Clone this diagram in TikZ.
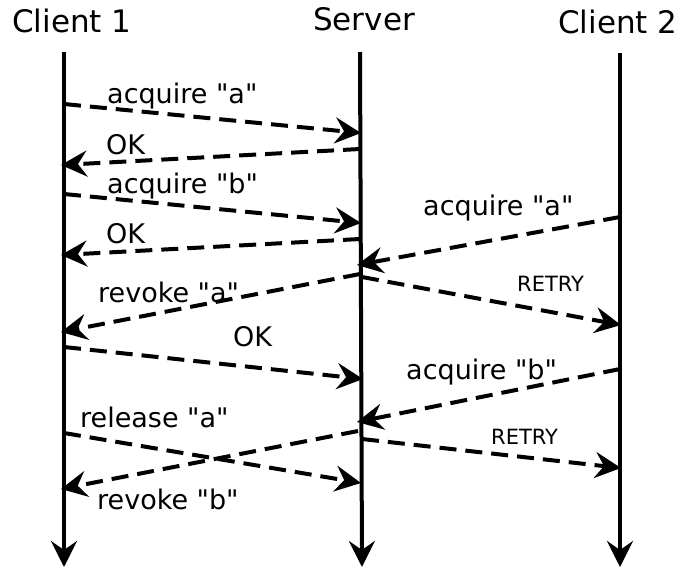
\documentclass[tikz,border=0pt]{standalone}
\usepackage{fontspec}
\setmainfont{DejaVu Sans}[Ligatures=TeXOff]
\usetikzlibrary{arrows.meta}
\begin{document}
\begin{tikzpicture}[x=1pt,y=-1pt,
  tip/.tip={Stealth[length=26pt,width=26pt,inset=9pt]},
  lifeline/.style={line width=4pt,-tip},
  msg/.style={line width=4pt,dash pattern=on 17pt off 9pt,-tip},
  title/.style={font=\fontsize{31}{36}\selectfont,anchor=base,inner sep=0pt},
  lbl/.style={font=\fontsize{27}{32}\selectfont,anchor=base west,inner sep=0pt},
  small/.style={font=\fontsize{21}{25}\selectfont,anchor=base west,inner sep=0pt}]
\useasboundingbox (0,0) rectangle (684,568);
% lifelines
\coordinate (c1top) at (64,52);  \coordinate (c1bot) at (64,567);
\coordinate (stop)  at (360,52); \coordinate (sbot)  at (362,567);
\coordinate (c2top) at (620,53); \coordinate (c2bot) at (620,567);
\draw[lifeline] (c1top) -- (c1bot);
\draw[lifeline] (stop) -- (sbot);
\draw[lifeline] (c2top) -- (c2bot);
\node[title] (t1) at (72,32) {Client 1};
\node[title] (ts) at (364,30) {Server};
\node[title] (t2) at (618,33) {Client 2};
% message endpoints
\coordinate (m1a) at (64,104);  \coordinate (m1b) at (361,133);
\coordinate (m2a) at (360,149); \coordinate (m2b) at (61,165);
\coordinate (m3a) at (64,194);  \coordinate (m3b) at (361,223);
\coordinate (m4a) at (360,239); \coordinate (m4b) at (61,255);
\coordinate (m5a) at (620,217); \coordinate (m5b) at (357,265);
\coordinate (m6a) at (362,277); \coordinate (m6b) at (621,325);
\coordinate (m7a) at (360,274); \coordinate (m7b) at (61,332);
\coordinate (m8a) at (64,347);  \coordinate (m8b) at (363,379);
\coordinate (m9a) at (620,369); \coordinate (m9b) at (357,422);
\coordinate (m10a) at (362,439); \coordinate (m10b) at (621,468);
\coordinate (m11a) at (64,433); \coordinate (m11b) at (361,483);
\coordinate (m12a) at (358,431); \coordinate (m12b) at (61,489);
% messages
\draw[msg] (m1a) -- (m1b);
\draw[msg] (m2a) -- (m2b);
\draw[msg] (m3a) -- (m3b);
\draw[msg] (m4a) -- (m4b);
\draw[msg] (m5a) -- (m5b);
\draw[msg] (m6a) -- (m6b);
\draw[msg] (m7a) -- (m7b);
\draw[msg] (m8a) -- (m8b);
\draw[msg] (m9a) -- (m9b);
\draw[msg] (m10a) -- (m10b);
\draw[msg] (m11a) -- (m11b);
\draw[msg] (m12a) -- (m12b);
% labels
\node[lbl] (l1) at (107,103) {acquire "a"};
\node[lbl] (l2) at (106,154) {OK};
\node[lbl] (l3) at (107,193) {acquire "b"};
\node[lbl] (l4) at (106,243) {OK};
\node[lbl] (l5) at (423,215) {acquire "a"};
\node[small] (l6) at (517,291) {RETRY};
\node[lbl] (l7) at (98,302) {revoke "a"};
\node[lbl] (l8) at (233,346) {OK};
\node[lbl] (l9) at (406,379) {acquire "b"};
\node[small] (l10) at (491,444) {RETRY};
\node[lbl] (l11) at (80,427) {release "a"};
\node[lbl] (l12) at (97,509) {revoke "b"};
\end{tikzpicture}
\end{document}
